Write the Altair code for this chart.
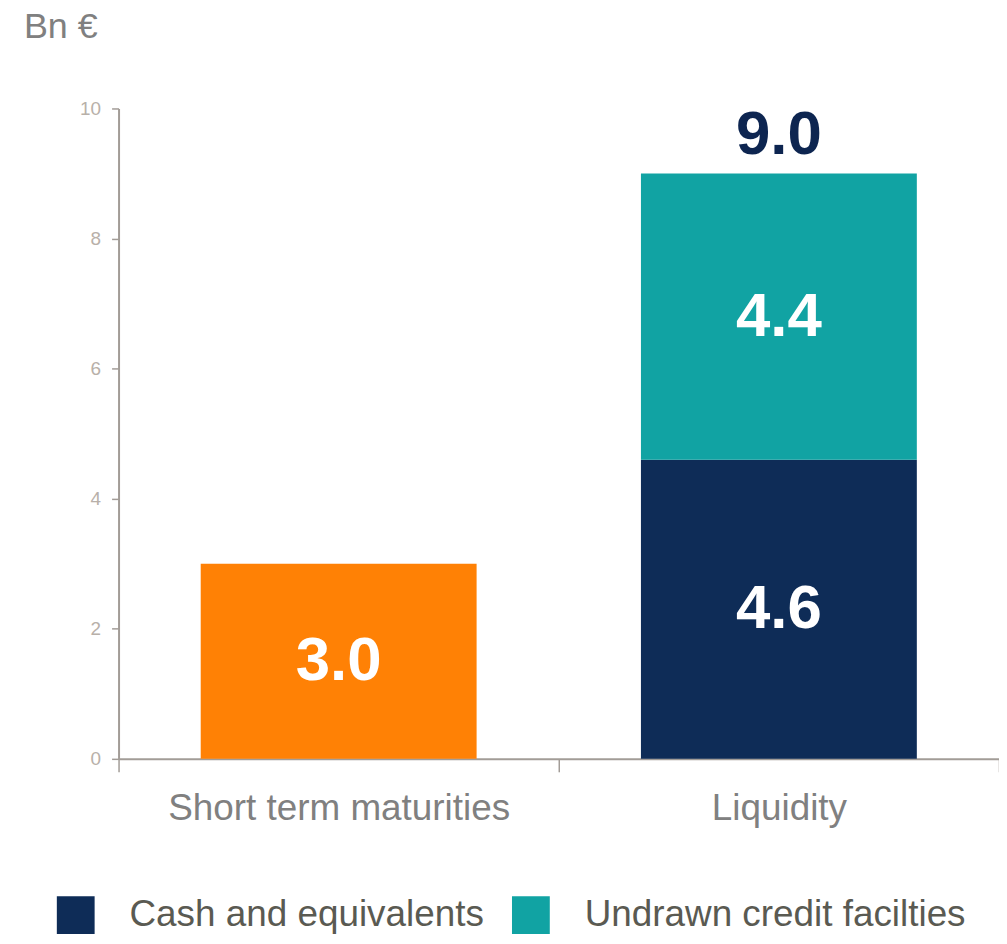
import altair as alt
import pandas as pd

# Data
categories = ["Short term maturities", "Liquidity", "Liquidity"]
series = ["Short term maturities", "Cash and equivalents", "Undrawn credit facilties"]
values = [3.0, 4.6, 4.4]
layer = [0, 0, 1]
cat_order = ["Short term maturities", "Liquidity"]
legend_items = ["Cash and equivalents", "Undrawn credit facilties"]
colors = ["#FF8105", "#0E2C57", "#11A3A3"]
y_ticks = [0, 2, 4, 6, 8, 10]
unit_label = ["Bn €"]

df = pd.DataFrame({"category": categories, "series": series, "value": values, "layer": layer})

FONT = "Liberation Sans"
AXIS_GRAY = "#A29C97"

x_enc = alt.X(
    "category:N",
    sort=cat_order,
    scale=alt.Scale(paddingInner=0, paddingOuter=0),
    axis=alt.Axis(
        title=None, labelAngle=0, labelFontSize=37, labelFont=FONT, labelColor="#808080",
        labelPadding=19, tickBand="extent", tickSize=13, tickColor=AXIS_GRAY, tickWidth=1.5,
        domainColor=AXIS_GRAY, domainWidth=2, labelLimit=600,
    ),
)

base = (
    alt.Chart(df)
    .transform_stack(stack="value", as_=["y0", "y1"], groupby=["category"],
                     sort=[alt.SortField("layer", order="ascending")])
    .transform_calculate(mid="(datum.y0 + datum.y1) / 2")
)

bars = base.mark_bar(size=277).encode(
    x=x_enc,
    y=alt.Y(
        "y0:Q",
        scale=alt.Scale(domain=[0, 10], nice=False),
        axis=alt.Axis(
            title=None, values=y_ticks, format="d", grid=False, labelFontSize=19,
            labelFont=FONT, labelColor="#B8B0A9", labelPadding=11, tickSize=7,
            tickColor=AXIS_GRAY, tickWidth=1.5, domainColor=AXIS_GRAY, domainWidth=2,
        ),
    ),
    y2="y1:Q",
    color=alt.Color(
        "series:N",
        scale=alt.Scale(domain=series, range=colors),
        legend=alt.Legend(
            title=None, values=legend_items, orient="none", direction="horizontal",
            legendX=-62, legendY=791, symbolType="square", symbolSize=1440,
            symbolStrokeWidth=0, symbolOpacity=1, labelFontSize=37, labelFont=FONT,
            labelColor="#5A5A52", labelOffset=35, columnPadding=28, labelLimit=600,
            padding=0,
        ),
    ),
)

seg_text = base.mark_text(
    font=FONT, fontSize=62, fontWeight="bold", color="white", baseline="middle"
).encode(
    x=alt.X("category:N", sort=cat_order),
    y=alt.Y("mid:Q"),
    text=alt.Text("value:Q", format=".1f"),
)

total_text = (
    alt.Chart(df)
    .transform_filter(alt.datum.category == "Liquidity")
    .transform_aggregate(total="sum(value)", groupby=["category"])
    .mark_text(font=FONT, fontSize=62, fontWeight="bold", color="#0D2550",
               baseline="middle", dy=-39)
    .encode(
        x=alt.X("category:N", sort=cat_order),
        y=alt.Y("total:Q"),
        text=alt.Text("total:Q", format=".1f"),
    )
)

unit_text = (
    alt.Chart(pd.DataFrame({"t": unit_label}))
    .mark_text(font=FONT, fontSize=36, color="#808080", align="left", baseline="alphabetic")
    .encode(x=alt.value(-95), y=alt.value(-71), text="t:N")
)

chart = (
    alt.layer(bars, seg_text, total_text, unit_text)
    .properties(
        width=884,
        height=653,
        autosize=alt.AutoSizeParams(type="none"),
        padding={"left": 111, "top": 99, "right": 0, "bottom": 176},
    )
    .configure_view(stroke=None)
)

chart.save("out.html", embed_options={"renderer": "svg", "actions": False})
